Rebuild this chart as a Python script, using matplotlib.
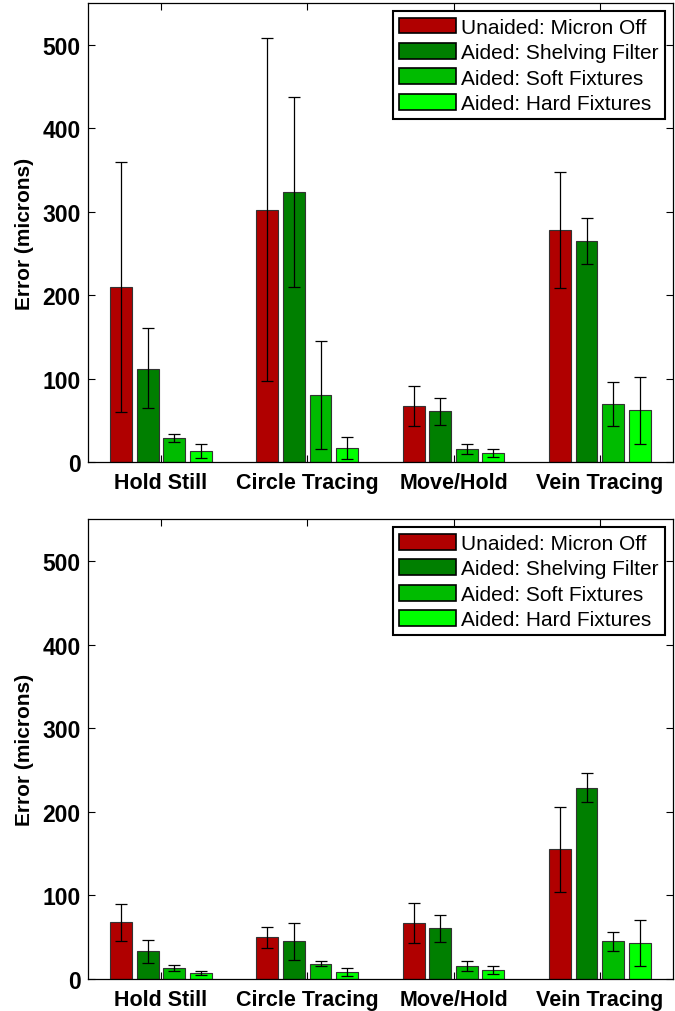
import numpy as np
import matplotlib.pyplot as plt

plt.rcParams['font.family'] = ['Liberation Sans', 'DejaVu Sans']

tasks = ['Hold Still', 'Circle Tracing', 'Move/Hold', 'Vein Tracing']
conditions = ['Unaided: Micron Off', 'Aided: Shelving Filter',
              'Aided: Soft Fixtures', 'Aided: Hard Fixtures']
colors = ['#b00000', '#007f00', '#00bb00', '#00ff00']

# top panel: mean, lower and upper ends of error bars
top_mean = [[210, 302, 67, 278],
            [112, 323, 61, 265],
            [29, 80, 15, 69],
            [13, 17, 11, 62]]
top_lo = [[60, 97, 43, 209],
          [65, 210, 44, 237],
          [24, 15, 10, 43],
          [5, 4, 6, 22]]
top_hi = [[360, 508, 91, 347],
          [160, 437, 77, 292],
          [34, 145, 21, 96],
          [22, 30, 16, 102]]

# bottom panel
bot_mean = [[68, 50, 67, 155],
            [33, 45, 61, 229],
            [13, 18, 15, 45],
            [7, 8, 11, 43]]
bot_lo = [[46, 37, 43, 104],
          [19, 23, 44, 212],
          [10, 15, 10, 33],
          [5, 4, 6, 16]]
bot_hi = [[90, 62, 91, 206],
          [47, 67, 77, 246],
          [17, 21, 21, 56],
          [9, 13, 16, 70]]


def draw_panel(ax, mean, lo, hi):
    x = np.arange(1, len(tasks) + 1)
    offsets = [-0.273, -0.091, 0.091, 0.273]
    for i in range(len(conditions)):
        m = np.array(mean[i])
        yerr = [m - np.array(lo[i]), np.array(hi[i]) - m]
        ax.bar(x + offsets[i], m, width=0.15, color=colors[i],
               edgecolor='#333333', linewidth=0.8, label=conditions[i], zorder=2)
        ax.errorbar(x + offsets[i], m, yerr=yerr, fmt='none', ecolor='black',
                    elinewidth=0.9, capsize=4, capthick=0.9, zorder=3)
    ax.set_xlim(0.5, 4.5)
    ax.set_ylim(0, 550)
    ax.set_yticks([0, 100, 200, 300, 400, 500])
    ax.set_xticks(x)
    ax.set_xticklabels(tasks)
    ax.tick_params(direction='in', top=True, right=True, length=5, width=0.8)
    ax.tick_params(axis='y', labelsize=16.5, pad=5)
    ax.tick_params(axis='x', labelsize=15.5, pad=7)
    for lab in ax.get_xticklabels() + ax.get_yticklabels():
        lab.set_fontweight('bold')
    ax.set_ylabel('Error (microns)', fontsize=15, fontweight='bold', labelpad=6)
    for sp in ax.spines.values():
        sp.set_linewidth(0.9)
    leg = ax.legend(loc='upper right', fontsize=15, handlelength=2.7,
                    handleheight=0.8, fancybox=False, framealpha=1,
                    edgecolor='black', borderpad=0.3, labelspacing=0.3,
                    handletextpad=0.25, borderaxespad=0.4)
    leg.get_frame().set_linewidth(1.5)
    for p in leg.get_patches():
        p.set_edgecolor('black')
        p.set_linewidth(1.2)


fig = plt.figure(figsize=(6.75, 10.12), dpi=100)
ax1 = fig.add_axes([0.130, 0.5425, 0.867, 0.4536])
ax2 = fig.add_axes([0.130, 0.0316, 0.867, 0.4545])
draw_panel(ax1, top_mean, top_lo, top_hi)
draw_panel(ax2, bot_mean, bot_lo, bot_hi)

fig.savefig('out.png', dpi=100)
